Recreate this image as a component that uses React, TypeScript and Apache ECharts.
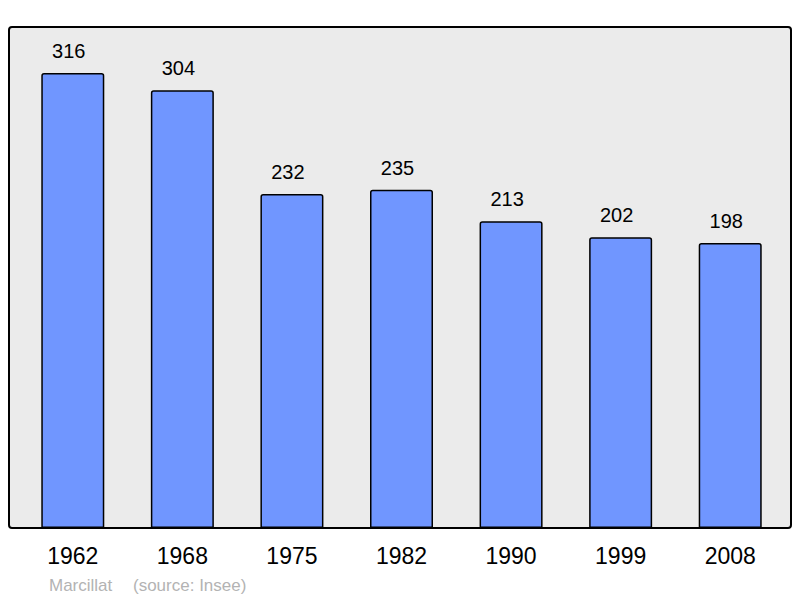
import React, { useEffect, useRef } from "react";
import * as echarts from "echarts";

const years = ["1962", "1968", "1975", "1982", "1990", "1999", "2008"];
const population = [316, 304, 232, 235, 213, 202, 198];
const townName = "Marcillat";
const sourceText = "(source: Insee)";

export default function App() {
  const ref = useRef<HTMLDivElement>(null);
  useEffect(() => {
    if (!ref.current) return;
    const chart = echarts.init(ref.current, null, { renderer: "svg" });
    const ff = "Liberation Sans, Arial, sans-serif";
    chart.setOption({
      animation: false,
      textStyle: { fontFamily: ff },
      graphic: [
        {
          type: "rect",
          z: -10,
          shape: { x: 9, y: 27, width: 782, height: 501, r: 3 },
          style: { fill: "#ebebeb", stroke: "#000", lineWidth: 2 },
        },
        {
          type: "text",
          left: 49,
          top: 577,
          style: { text: townName, fill: "#b3b3b3", fontSize: 17, fontFamily: ff },
        },
        {
          type: "text",
          left: 133,
          top: 577,
          style: { text: sourceText, fill: "#b3b3b3", fontSize: 17, fontFamily: ff },
        },
      ],
      grid: { left: 18, right: 15, top: 27, bottom: 70, containLabel: false },
      xAxis: {
        type: "category",
        data: years,
        axisLine: { show: false },
        axisTick: { show: false },
        axisLabel: { color: "#000", fontSize: 23, margin: 16 },
      },
      yAxis: {
        type: "value",
        min: 0,
        max: 348,
        show: false,
        splitLine: { show: false },
      },
      series: [
        {
          type: "bar",
          data: population,
          barWidth: 63,
          itemStyle: {
            color: "#7096ff",
            borderColor: "#000",
            borderWidth: 1.5,
            borderRadius: [2, 2, 0, 0],
          },
          label: {
            show: true,
            position: "top",
            distance: 12,
            offset: [-4, 0],
            color: "#000",
            fontSize: 20,
          },
        },
      ],
    });
    return () => chart.dispose();
  }, []);
  return <div ref={ref} style={{ width: 800, height: 598, position: "absolute", left: 0, top: 0 }} />;
}
